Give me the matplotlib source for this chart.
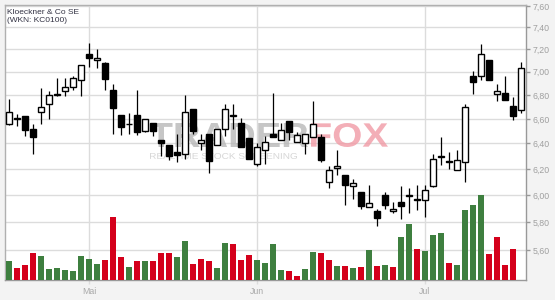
import matplotlib
matplotlib.use("Agg")
import matplotlib.pyplot as plt
import matplotlib.transforms as mtransforms
from matplotlib.textpath import TextPath
from matplotlib.patches import PathPatch
from matplotlib.font_manager import FontProperties
from matplotlib.ticker import FixedLocator, FixedFormatter, NullLocator

# ---------------- data ----------------
title_lines = ["Kloeckner & Co SE", "(WKN: KC0100)"]

opens = [6.56, 6.61, 6.62, 6.52, 6.66, 6.72, 6.80, 6.83, 6.87, 6.93,
         7.16, 7.10, 7.08, 6.84, 6.63, 6.555, 6.63, 6.50, 6.57, 6.43,
         6.39, 6.33, 6.32, 6.68, 6.40, 6.48, 6.39, 6.52, 6.625, 6.57,
         6.44, 6.24, 6.35, 6.48, 6.43, 6.58, 6.41, 6.40, 6.45, 6.45,
         6.10, 6.21, 6.15, 6.07, 6.02, 5.91, 5.88, 6.00, 5.88, 5.95,
         5.995, 5.965, 5.96, 6.07, 6.295, 6.26, 6.19, 6.25, 6.96, 6.96,
         7.10, 6.81, 6.82, 6.71, 6.67]
highs = [6.77, 6.64, 6.62, 6.56, 6.86, 6.83, 6.95, 6.95, 6.96, 7.06,
         7.26, 7.20, 7.09, 6.89, 6.63, 6.65, 6.84, 6.60, 6.57, 6.43,
         6.39, 6.48, 6.80, 6.68, 6.48, 6.48, 6.52, 6.72, 6.72, 6.61,
         6.44, 6.40, 6.46, 6.82, 6.57, 6.58, 6.49, 6.48, 6.75, 6.48,
         6.22, 6.35, 6.15, 6.12, 6.02, 6.08, 5.90, 6.02, 5.95, 6.07,
         6.05, 6.08, 6.08, 6.32, 6.45, 6.33, 6.35, 6.72, 7.01, 7.25,
         7.10, 6.89, 6.96, 6.78, 7.09]
lows = [6.55, 6.54, 6.46, 6.32, 6.56, 6.60, 6.79, 6.79, 6.84, 6.79,
        7.04, 7.03, 6.84, 6.48, 6.47, 6.48, 6.47, 6.49, 6.46, 6.30,
        6.27, 6.25, 6.28, 6.48, 6.35, 6.17, 6.39, 6.46, 6.52, 6.37,
        6.28, 6.22, 6.24, 6.45, 6.43, 6.43, 6.41, 6.32, 6.45, 6.25,
        6.05, 6.15, 5.93, 5.97, 5.90, 5.91, 5.77, 5.90, 5.87, 5.82,
        5.87, 5.89, 5.84, 6.06, 6.23, 6.20, 6.19, 6.10, 6.81, 6.93,
        6.93, 6.75, 6.76, 6.59, 6.65]
closes = [6.66, 6.60, 6.51, 6.45, 6.70, 6.80, 6.81, 6.87, 6.95, 7.06,
          7.12, 7.125, 6.94, 6.69, 6.53, 6.56, 6.49, 6.60, 6.50, 6.40,
          6.30, 6.31, 6.66, 6.50, 6.43, 6.26, 6.52, 6.68, 6.63, 6.37,
          6.28, 6.37, 6.41, 6.45, 6.51, 6.49, 6.47, 6.475, 6.56, 6.27,
          6.19, 6.22, 6.08, 6.09, 5.92, 5.94, 5.83, 5.93, 5.90, 5.92,
          6.00, 5.97, 6.04, 6.28, 6.30, 6.25, 6.27, 6.70, 6.91, 7.16,
          6.93, 6.83, 6.76, 6.62, 7.03]

volumes = [19, 12, 15, 27, 24, 11, 12, 10, 9, 24,
           21, 16, 20, 63, 23, 13, 19, 19, 19, 27,
           27, 23, 39, 16, 21, 19, 12, 37, 36, 20,
           25, 20, 17, 36, 10, 9, 4, 11, 28, 27,
           20, 14, 14, 12, 13, 30, 14, 15, 13, 43,
           56, 31, 29, 45, 47, 17, 15, 70, 75, 85,
           26, 43, 15, 31]
vol_up = "GRRRGGGGGGGGRRRGRGRRRGGRRRGGRRRGGGGRRGGRRGRGRGRGRGGRGGGRGGGGRRRR"

price_ticks = [5.6, 5.8, 6.0, 6.2, 6.4, 6.6, 6.8, 7.0, 7.2, 7.4, 7.6]
price_labels = ["5,60", "5,80", "6,00", "6,20", "6,40", "6,60", "6,80",
                "7,00", "7,20", "7,40", "7,60"]
month_pos = [10, 31, 52]
month_labels = ["Mai", "Jun", "Jul"]

# ---------------- figure ----------------
W, H = 555, 300
fig = plt.figure(figsize=(W / 100, H / 100), dpi=100, facecolor="#f3f3f3")
L, R, B, T = 5 / W, 525.5 / W, 20 / H, 295 / H
ax = fig.add_axes([L, B, R - L, T - B])
ax.set_facecolor("white")
ax.set_yscale("log")

GREEN = "#3e7f3f"
RED = "#d4001b"

# grid
for p in price_ticks:
    ax.axhline(p, color="#dcdcdc", lw=1.0, zorder=0.2)
for m in month_pos:
    ax.axvline(m, color="#dcdcdc", lw=1.0, zorder=0.2)

# watermark (fit text into pixel boxes)
def fit_text(s, box, color, alpha, weight="bold"):
    tp = TextPath((0, 0), s, size=10,
                  prop=FontProperties(family="Liberation Sans", weight=weight))
    ext = tp.get_extents()
    x0, y0, x1, y1 = box
    sx = (x1 - x0) / W / ext.width
    sy = (y1 - y0) / H / ext.height
    tr = (mtransforms.Affine2D().translate(-ext.x0, -ext.y0)
          .scale(sx, sy).translate(x0 / W, 1 - y1 / H) + fig.transFigure)
    patch = PathPatch(tp, transform=tr, fc=color, ec="none", alpha=alpha,
                      zorder=0.5)
    ax.add_artist(patch)

fit_text("TRADER", (150, 123, 308, 147), "#b3b3b3", 0.75)
fit_text("FOX", (311, 123, 388, 147), "#f19aa5", 0.8)
fit_text("REALTIME STOCK SCREENING", (150, 153, 297, 159), "#d2d2d2", 0.9,
         weight="normal")

# candles
n = len(opens)
xs = list(range(n))
for i in xs:
    o, h, l, c = opens[i], highs[i], lows[i], closes[i]
    ax.vlines(i, l, h, color="black", lw=0.9, zorder=2)
    up = c >= o
    ax.bar(i, abs(c - o), bottom=min(o, c), width=0.8,
           color="white" if up else "black", edgecolor="black",
           linewidth=1.0, zorder=3)

# volume on a twin axis drawn on top (transparent)
axv = ax.twinx()
axv.set_yscale("linear")
axv.bar(range(len(volumes)), volumes, width=0.75,
        color=[GREEN if v == "G" else RED for v in vol_up], zorder=1)
axv.set_ylim(0, 275)
axv.set_yticks([])
axv.tick_params(axis="both", length=0, labelleft=False, labelright=False)
for s in axv.spines.values():
    s.set_visible(False)

ax.set_xlim(-0.5, 64.56)
axv.set_xlim(-0.5, 64.56)
ax.set_ylim(5.396, 7.6095)

ax.yaxis.tick_right()
ax.yaxis.set_major_locator(FixedLocator(price_ticks))
ax.yaxis.set_major_formatter(FixedFormatter(price_labels))
ax.yaxis.set_minor_locator(NullLocator())
ax.xaxis.set_major_locator(FixedLocator(month_pos))
ax.xaxis.set_major_formatter(FixedFormatter(month_labels))
ax.xaxis.set_minor_locator(NullLocator())
ax.tick_params(axis="y", which="both", left=False, labelleft=False,
               right=True, labelright=True,
               colors="#999999", labelcolor="#a0a0a0", labelsize=6.3,
               length=3, width=1, pad=2)
ax.tick_params(axis="x", colors="#dcdcdc", labelcolor="#a8a8a8", labelsize=6.3,
               length=3, width=1, pad=2)
for lab in ax.get_xticklabels() + ax.get_yticklabels():
    lab.set_fontfamily("Liberation Sans")

for s in ["left", "top"]:
    ax.spines[s].set_color("#b0b0b0")
    ax.spines[s].set_linewidth(1.0)
for s in ["right", "bottom"]:
    ax.spines[s].set_color("#999999")
    ax.spines[s].set_linewidth(1.0)

# title
ax.text(0.004, 0.985, title_lines[0] + "\n" + title_lines[1],
        transform=ax.transAxes, ha="left", va="top", fontsize=6.0,
        family="Liberation Sans", color="#333344", linespacing=1.15,
        zorder=5)

fig.savefig("out.png", dpi=100, facecolor=fig.get_facecolor())
